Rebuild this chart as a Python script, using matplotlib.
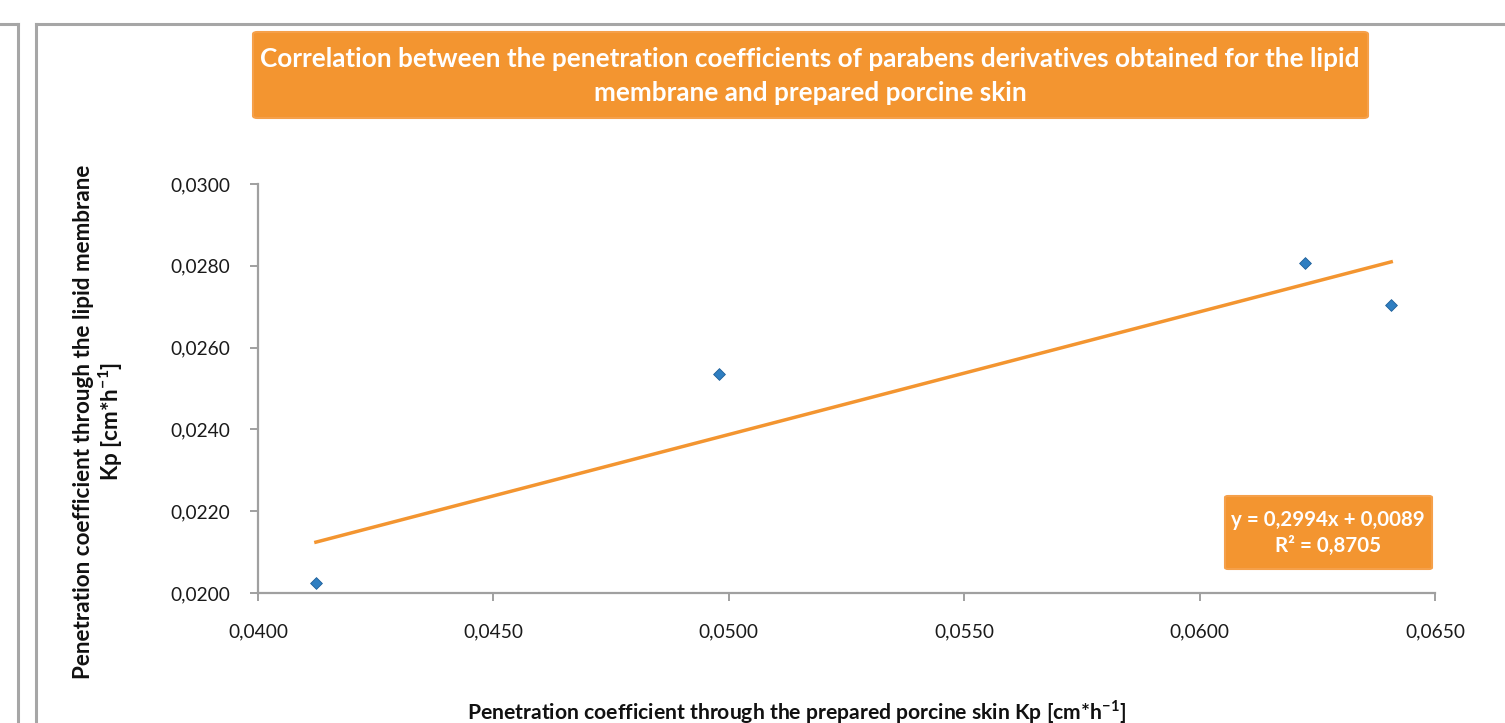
import numpy as np
import matplotlib
matplotlib.use("Agg")
import matplotlib.pyplot as plt
from matplotlib.patches import FancyBboxPatch
from matplotlib.lines import Line2D
from matplotlib.ticker import FixedLocator, FuncFormatter

plt.rcParams['font.family'] = ['Lato', 'DejaVu Sans']

# Data (Kp skin, Kp lipid membrane)
kp_skin = [0.04123, 0.04979, 0.06224, 0.06407]
kp_membrane = [0.02024, 0.02535, 0.02807, 0.02704]
x_ticks = [0.0400, 0.0450, 0.0500, 0.0550, 0.0600, 0.0650]
y_ticks = [0.0200, 0.0220, 0.0240, 0.0260, 0.0280, 0.0300]
title_text = ("Correlation between the penetration coefficients of parabens derivatives obtained for the lipid\n"
              "membrane and prepared porcine skin")
equation_text = "y = 0,2994x + 0,0089\nR² = 0,8705"
xlabel_text = r"Penetration coefficient through the prepared porcine skin Kp [cm*h$^{\mathregular{-1}}$]"
ylabel_text = "Penetration coefficient through the lipid membrane\n" r"Kp [cm*h$^{\mathregular{-1}}$]"

W, H = 1505, 723
fig = plt.figure(figsize=(W / 100, H / 100), dpi=100)

def fx(px):
    return px / W

def fy(py):
    return 1 - py / H

# Chart frame lines
grey = '#A6A6A6'
fig.add_artist(Line2D([fx(36), fx(36)], [fy(24), 0], color=grey, lw=2.2, transform=fig.transFigure))
fig.add_artist(Line2D([fx(36), 1], [fy(24), fy(24)], color=grey, lw=2.2, transform=fig.transFigure))
fig.add_artist(Line2D([fx(18), fx(18)], [fy(24), 0], color=grey, lw=2.2, transform=fig.transFigure))
fig.add_artist(Line2D([0, fx(18)], [fy(24), fy(24)], color=grey, lw=2.2, transform=fig.transFigure))

ax = fig.add_axes([fx(258), fy(593), fx(1435) - fx(258), fy(184) - fy(593)])
ax.set_xlim(0.0400, 0.0650)
ax.set_ylim(0.0200, 0.0300)

ax.scatter(kp_skin, kp_membrane, marker='D', s=36, color='#2E7EC1',
           edgecolors='#1F5F99', linewidths=0.6, zorder=3)

# Linear trendline
coef = np.polyfit(kp_skin, kp_membrane, 1)
xs = np.array([min(kp_skin), max(kp_skin)])
ax.plot(xs, np.polyval(coef, xs), color='#F39530', lw=2.5, zorder=2)

for s in ['top', 'right']:
    ax.spines[s].set_visible(False)
for s in ['left', 'bottom']:
    ax.spines[s].set_color('#A0A0A0')
    ax.spines[s].set_linewidth(1.6)
ax.xaxis.set_major_locator(FixedLocator(x_ticks))
ax.yaxis.set_major_locator(FixedLocator(y_ticks))
fmt = FuncFormatter(lambda v, p: f"{v:.4f}".replace('.', ','))
ax.xaxis.set_major_formatter(fmt)
ax.yaxis.set_major_formatter(fmt)
ax.tick_params(axis='both', direction='out', length=6, width=1.4, color='#A0A0A0',
               labelsize=13.8, labelcolor='#1a1a1a')
ax.tick_params(axis='x', pad=16)
ax.tick_params(axis='y', pad=14)
ax.patch.set_alpha(0)

# Title box
tb = FancyBboxPatch((fx(253), fy(118)), fx(1368) - fx(253), fy(32) - fy(118),
                    boxstyle='round,pad=0,rounding_size=0.003', transform=fig.transFigure,
                    facecolor='#F39530', edgecolor='#F5A04A', lw=1.5)
fig.add_artist(tb)
fig.text(fx(810), fy(76), title_text, ha='center', va='center', color='white',
         fontsize=18.8, fontweight='bold', linespacing=1.5)

# Equation box
eb = FancyBboxPatch((fx(1225), fy(569)), fx(1432) - fx(1225), fy(496) - fy(569),
                    boxstyle='round,pad=0,rounding_size=0.002', transform=fig.transFigure,
                    facecolor='#F39530', edgecolor='#F5A04A', lw=1.5)
fig.add_artist(eb)
fig.text(fx(1328), fy(533), equation_text, ha='center', va='center', color='white',
         fontsize=14.8, fontweight='bold', linespacing=1.4)

# Axis labels
fig.text(fx(99), fy(422), ylabel_text, ha='center', va='center', rotation=90,
         fontsize=16.2, fontweight='bold', color='#111111', linespacing=1.15)
fig.text(fx(797), fy(712), xlabel_text, ha='center', va='center',
         fontsize=15.2, fontweight='bold', color='#111111')

fig.savefig('out.png', dpi=100)
